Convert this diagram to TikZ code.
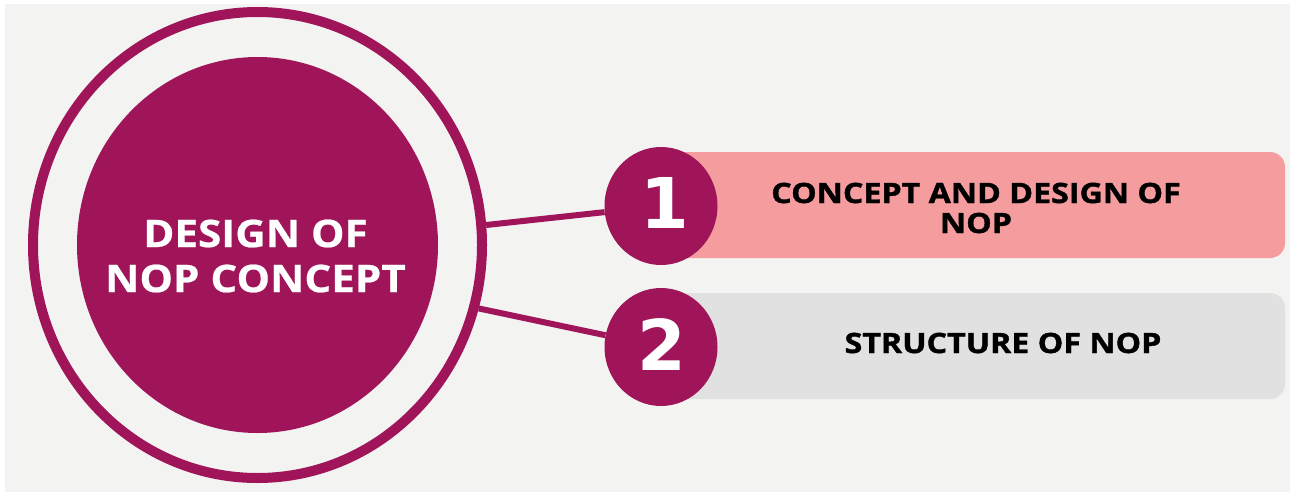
\documentclass[tikz,border=0pt]{standalone}
\usepackage{fontspec}
\setmainfont{Open Sans}
\newfontfamily\titlefont{Open Sans}[FakeStretch=1.11, BoldFeatures={FakeBold=0.6}]
\newfontfamily\itemfont{Open Sans}[FakeStretch=1.15, BoldFeatures={FakeBold=1.3}]
\newfontfamily\numfont{DejaVu Sans}
\usetikzlibrary{shapes.geometric}
\definecolor{mag}{HTML}{A0145A}
\definecolor{pinkbar}{HTML}{F59C9F}
\definecolor{graybar}{HTML}{E0E1E0}
\definecolor{bg}{HTML}{F3F3F2}
\tikzset{
  barbox/.style={rectangle, rounded corners=15pt, minimum width=624pt, minimum height=106pt, inner sep=0pt},
  numdisc/.style={ellipse, fill=mag, minimum width=113pt, minimum height=118pt, inner sep=0pt},
  numtext/.style={text=white, inner sep=0pt, font=\numfont\bfseries\fontsize{70}{70}\selectfont},
  itemtext/.style={text=black, inner sep=0pt, align=center, font=\itemfont\bfseries\fontsize{28}{30}\selectfont},
  link/.style={draw=mag, line width=6pt}
}
\begin{document}
\begin{tikzpicture}[x=1pt,y=-1pt]
\useasboundingbox (0,0) rectangle (1290,493);
\fill[white] (0,0) rectangle (1290,493);
\fill[bg] (5,4) rectangle (1290,492);
% bars
\node[barbox, fill=pinkbar] (bar1) at (973,205) {};
\node[barbox, fill=graybar] (bar2) at (973,346) {};
% central ring and disc
\node[ellipse, draw=mag, line width=10pt, minimum width=449pt, minimum height=466pt, inner sep=0pt] (ring) at (257.5,245) {};
\node[ellipse, fill=mag, minimum width=361pt, minimum height=376pt, inner sep=0pt] (core) at (257.5,245) {};
\node[text=white, inner sep=0pt, align=center, font=\titlefont\bfseries\fontsize{38}{45}\selectfont] (title) at (255.5,256) {DESIGN OF\\NOP CONCEPT};
% number discs
\node[numdisc] (c1) at (661,206) {};
\node[numdisc] (c2) at (661,347) {};
\node[numtext] (d1) at (664.5,202.5) {1};
\node[numtext] (d2) at (661.5,345) {2};
% connectors
\draw[link] (ring.5.5) -- (c1);
\draw[link] (ring.-16.9) -- (c2);
% texts
\node[itemtext] (t1) at (976,208) {CONCEPT AND DESIGN OF\\NOP};
\node[itemtext] (t2) at (1003,343) {STRUCTURE OF NOP};
\end{tikzpicture}
\end{document}
